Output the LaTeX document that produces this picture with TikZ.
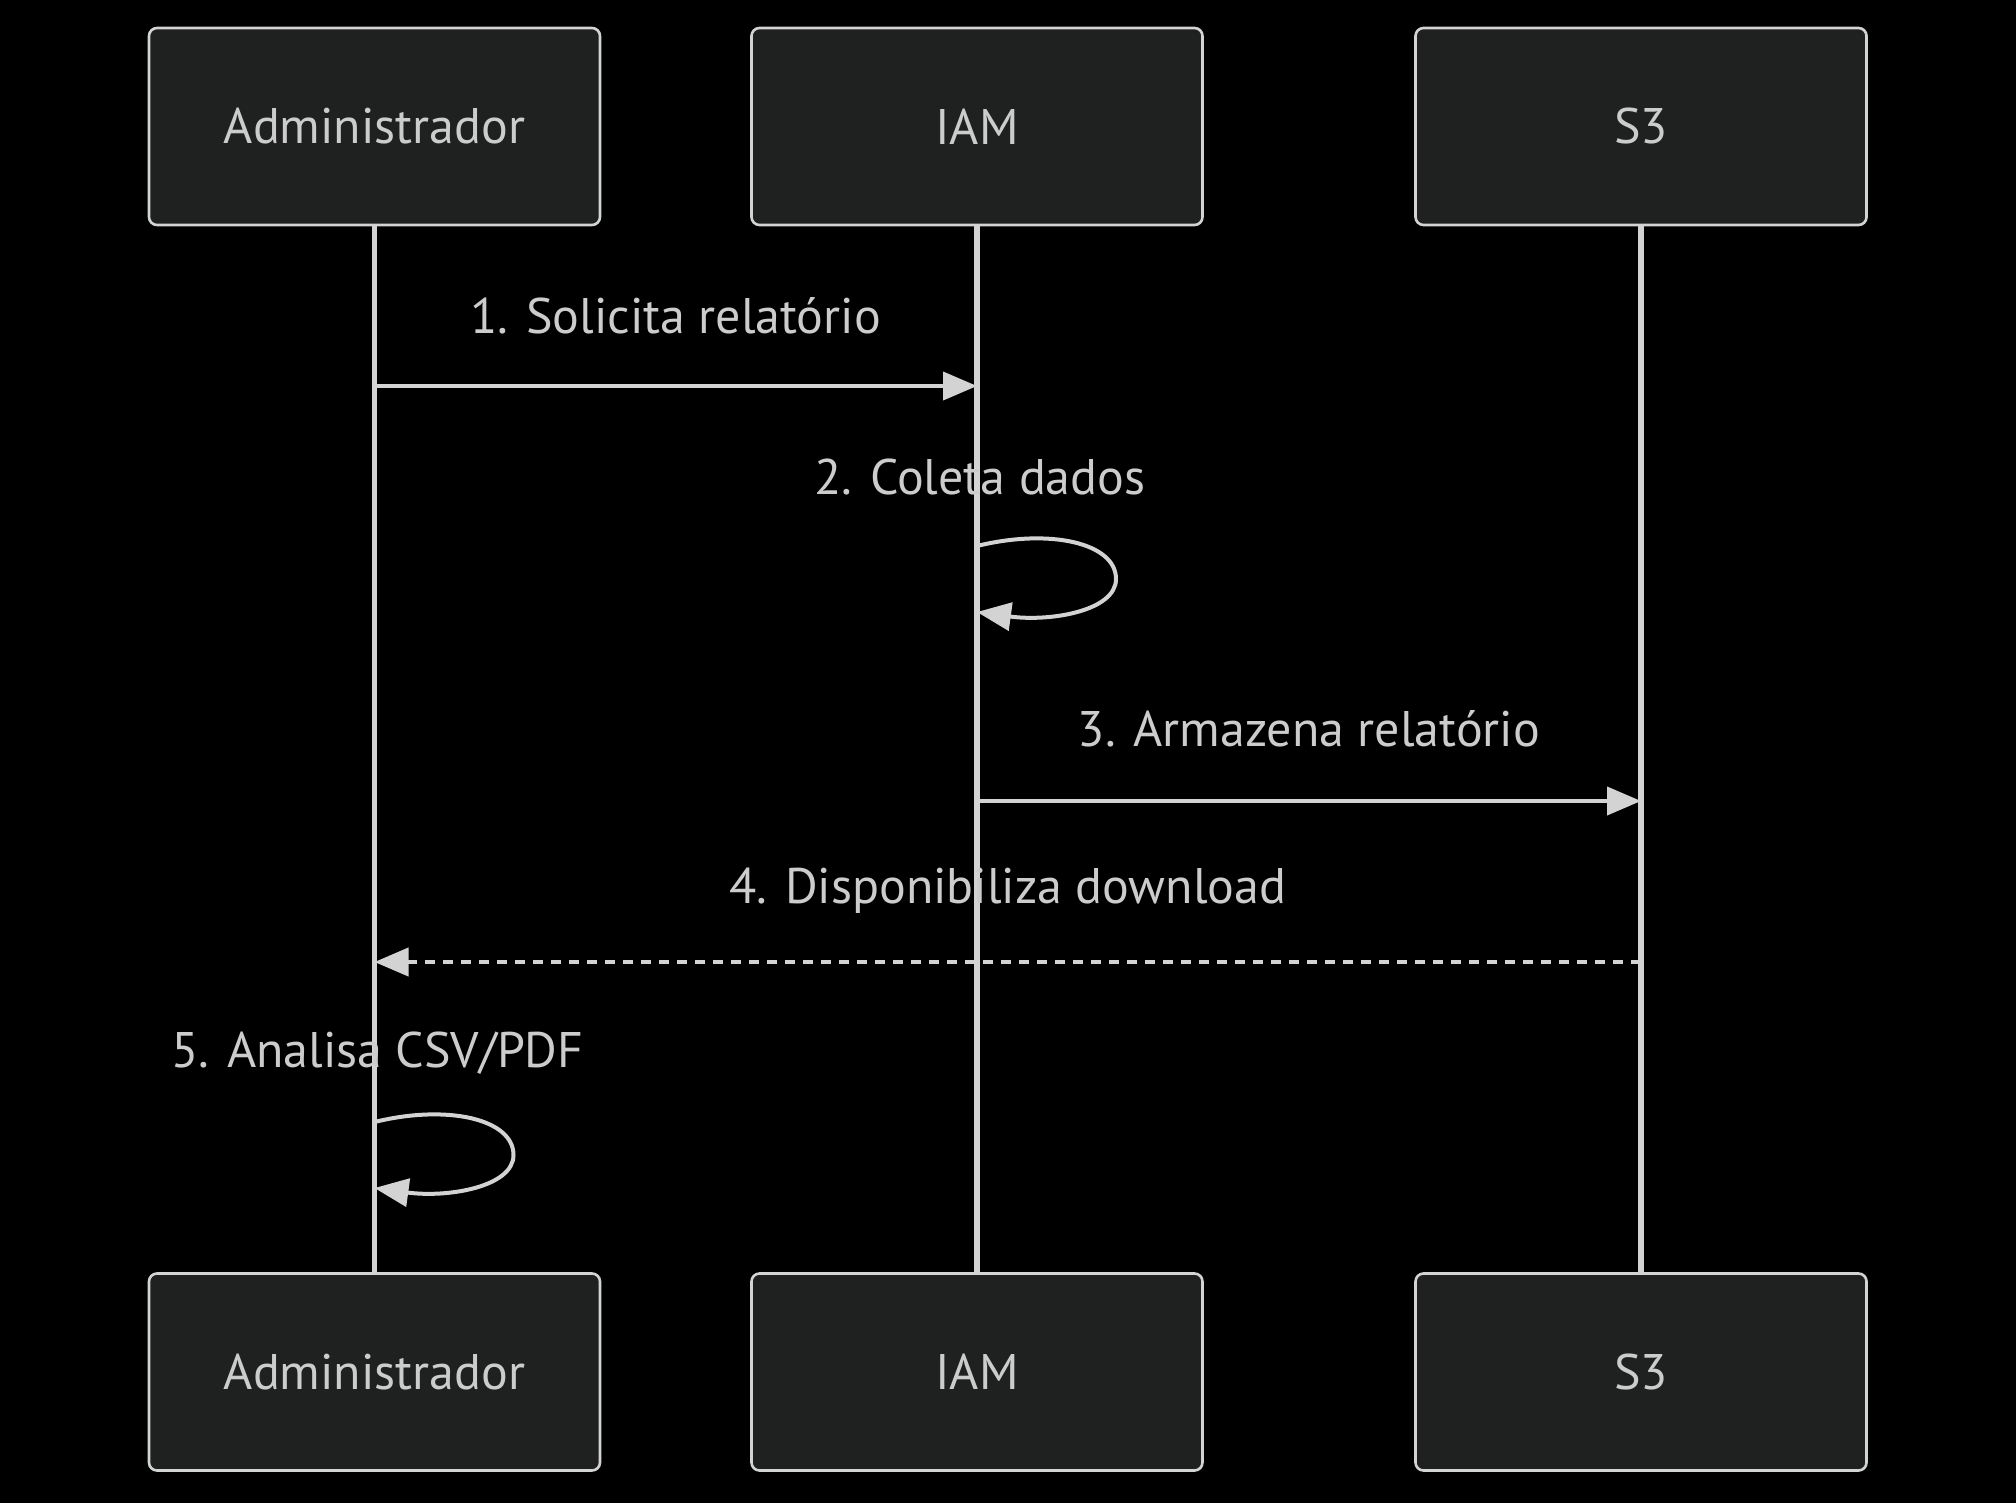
\documentclass[tikz,border=0pt]{standalone}
\usepackage{fontspec}
\setmainfont{PT Sans}
\usetikzlibrary{arrows.meta,positioning}

\definecolor{boxfill}{HTML}{1F2020}
\definecolor{linegray}{HTML}{D3D3D3}
\definecolor{textgray}{HTML}{CCCCCC}

\begin{document}
\begin{tikzpicture}[%
x=0.5pt, y=-0.5pt,
>={Triangle[length=17pt,width=14pt]},
on grid,
actor/.style={draw=linegray, line width=1.3pt, fill=boxfill, rounded corners=4pt,
  minimum width=225.5pt, minimum height=98.5pt, text=textgray,
  font=\fontsize{25}{30}\selectfont},
msg/.style={text=textgray, font=\fontsize{25}{30}\selectfont},
life/.style={linegray, line width=2.6pt},
arr/.style={->, linegray, line width=2pt}
]

\fill[black] (0,0) rectangle (2016,1503);

% participants
\node[actor] (adm) at (374.5,126.5) {Administrador};
\node[actor] (iam) [right=301.25pt of adm] {IAM};
\node[actor] (s3) [right=332pt of iam] {S3};
\node[actor] (admB) [below=622.75pt of adm] {Administrador};
\node[actor] (iamB) [below=622.75pt of iam] {IAM};
\node[actor] (s3B) [below=622.75pt of s3] {S3};

\draw[life] (adm) -- (admB);
\draw[life] (iam) -- (iamB);
\draw[life] (s3) -- (s3B);

% message levels
\coordinate (y1) at (0,386);
\coordinate (y2) at (0,546);
\coordinate (y3) at (0,801);
\coordinate (y4) at (0,962);
\coordinate (y5) at (0,1122);

\draw[arr] (adm |- y1) -- (iam |- y1)
  node[msg, midway, yshift=35pt] {1. Solicita relatório};
\draw[arr] (iam |- y2) node[msg, xshift=1.5pt, yshift=34.5pt] {2. Coleta dados}
  .. controls +(73,-18) and +(0,-36) .. ++(139,33)
  .. controls +(0,32) and +(73,10) .. ++(-139,33);
\draw[arr] (iam |- y3) -- (s3 |- y3)
  node[msg, midway, yshift=36pt] {3. Armazena relatório};
\draw[arr, dash pattern=on 5pt off 4pt] (s3 |- y4) -- (adm |- y4)
  node[msg, midway, yshift=35.5pt] {4. Disponibiliza download};
\draw[arr] (adm |- y5) node[msg, xshift=1.5pt, yshift=34.5pt] {5. Analisa CSV/PDF}
  .. controls +(73,-18) and +(0,-36) .. ++(139,33)
  .. controls +(0,32) and +(73,10) .. ++(-139,33);

\end{tikzpicture}
\end{document}
